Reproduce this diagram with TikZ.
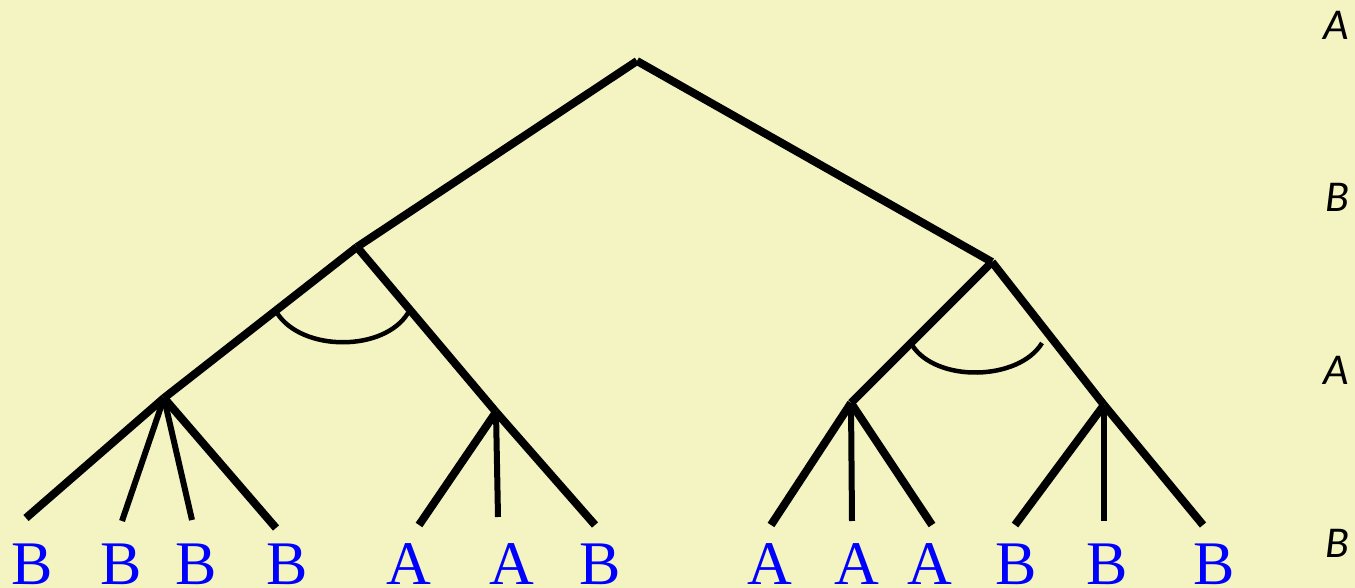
\documentclass[tikz,border=0pt]{standalone}
\usepackage{fontspec}
\setmainfont{Liberation Serif}
\newfontfamily\lblfont{Carlito}
\definecolor{bgyel}{RGB}{244,244,194}
\definecolor{leafblue}{RGB}{0,0,255}
\begin{document}
\begin{tikzpicture}[x=1pt,y=-1pt,
  edge/.style={line width=8pt,line cap=butt},
  thinedge/.style={line width=6pt,line cap=butt},
  arcline/.style={line width=4.5pt},
  leaf/.style={text=leafblue,font=\fontsize{62}{62}\selectfont,anchor=base,inner sep=0pt},
  level/.style={font=\lblfont\itshape\fontsize{44}{44}\selectfont,inner sep=0pt,anchor=center}]
\fill[bgyel] (0,0) rectangle (1355,588);
\useasboundingbox (0,0) rectangle (1355,588);
% internal nodes
\coordinate (root) at (637,61);
\coordinate (L) at (357,247);
\coordinate (R) at (992,262);
\coordinate (LL) at (164,398);
\coordinate (LR) at (496,412);
\coordinate (RL) at (851,403);
\coordinate (RR) at (1104,405);
% leaf ends
\coordinate (a1) at (26,518);
\coordinate (a2) at (122,521);
\coordinate (a3) at (192,520);
\coordinate (a4) at (276,528);
\coordinate (a5) at (419,525);
\coordinate (a6) at (498,517);
\coordinate (a7) at (595,525);
\coordinate (a8) at (771,525);
\coordinate (a9) at (852,521);
\coordinate (a10) at (932,525);
\coordinate (a11) at (1015,525);
\coordinate (a12) at (1104,521);
\coordinate (a13) at (1203,525);
% edges
\draw[edge] (root) -- (L);
\draw[edge] (root) -- (R);
\draw[edge] (L) -- (LL);
\draw[edge] (L) -- (LR);
\draw[edge] (R) -- (RL);
\draw[edge] (R) -- (RR);
\draw[edge] (LL) -- (a1);
\draw[thinedge] (LL) -- (a2);
\draw[thinedge] (LL) -- (a3);
\draw[edge] (LL) -- (a4);
\draw[edge] (LR) -- (a5);
\draw[thinedge] (LR) -- (a6);
\draw[edge] (LR) -- (a7);
\draw[edge] (RL) -- (a8);
\draw[thinedge] (RL) -- (a9);
\draw[edge] (RL) -- (a10);
\draw[edge] (RR) -- (a11);
\draw[thinedge] (RR) -- (a12);
\draw[edge] (RR) -- (a13);
% arcs
\coordinate (la1) at (277,313);
\coordinate (la2) at (408,313);
\coordinate (ra1) at (912,345);
\coordinate (ra2) at (1042,343);
\draw[arcline] (la1) .. controls (302,352) and (384,352) .. (la2);
\draw[arcline] (ra1) .. controls (936,383) and (1019,381) .. (ra2);
% leaf labels
\node[leaf] (l1) at (32,584) {B};
\node[leaf] (l2) at (121,584) {B};
\node[leaf] (l3) at (196,584) {B};
\node[leaf] (l4) at (287,584) {B};
\node[leaf] (l5) at (409,584) {A};
\node[leaf] (l6) at (512,584) {A};
\node[leaf] (l7) at (600,584) {B};
\node[leaf] (l8) at (770,584) {A};
\node[leaf] (l9) at (857,584) {A};
\node[leaf] (l10) at (930,584) {A};
\node[leaf] (l11) at (1016,584) {B};
\node[leaf] (l12) at (1107,584) {B};
\node[leaf] (l13) at (1214,584) {B};
% level labels
\node[level] (v1) at (1336,25) {A};
\node[level] (v2) at (1337,197) {B};
\node[level] (v3) at (1336,370) {A};
\node[level] (v4) at (1337,543) {B};
\end{tikzpicture}
\end{document}
